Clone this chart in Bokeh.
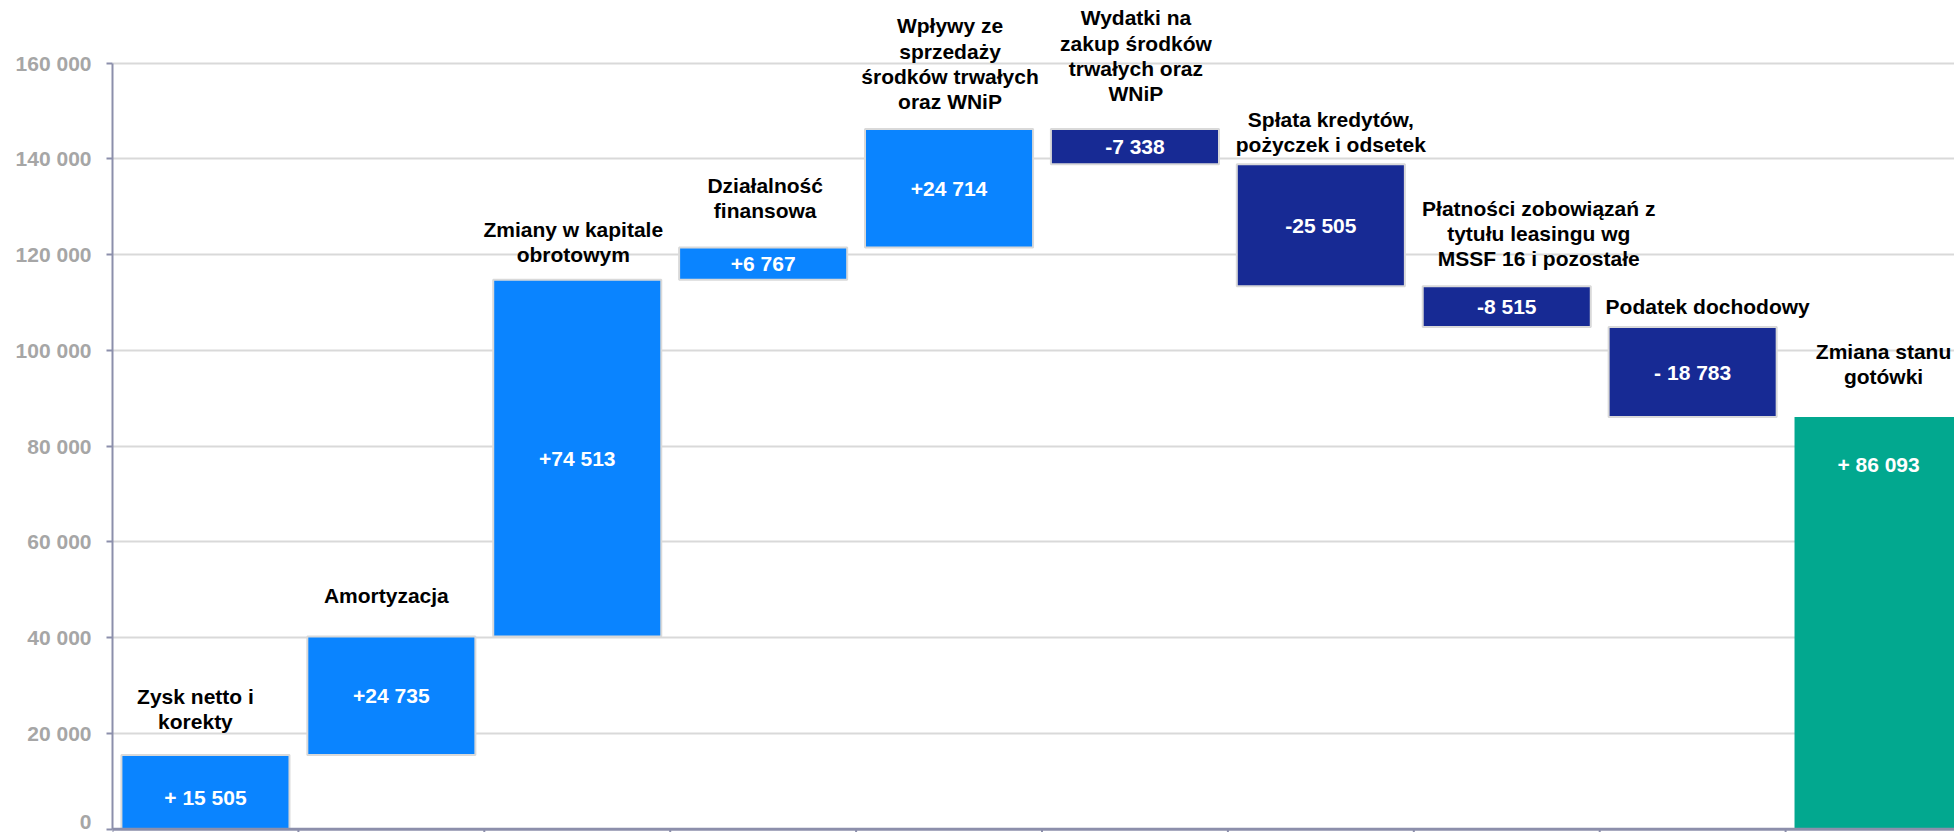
from bokeh.plotting import figure
from bokeh.models import ColumnDataSource, FixedTicker, Range1d, Span
from bokeh.embed import file_html
from bokeh.resources import INLINE
from bokeh.core.properties import value

# ---------------- data ----------------
categories = [
    "Zysk netto i\nkorekty",
    "Amortyzacja",
    "Zmiany w kapitale\nobrotowym",
    "Działalność\nfinansowa",
    "Wpływy ze\nsprzedaży\nśrodków trwałych\noraz WNiP",
    "Wydatki na\nzakup środków\ntrwałych oraz\nWNiP",
    "Spłata kredytów,\npożyczek i odsetek",
    "Płatności zobowiązań z\ntytułu leasingu wg\nMSSF 16 i pozostałe",
    "Podatek dochodowy",
    "Zmiana stanu\ngotówki",
]
changes = [15505, 24735, 74513, 6767, 24714, -7338, -25505, -8515, -18783]
total_value = 86093
value_labels = ["+ 15 505", "+24 735", "+74 513", "+6 767", "+24 714",
                "-7 338", "-25 505", "-8 515", "- 18 783", "+ 86 093"]
y_ticks = [0, 20000, 40000, 60000, 80000, 100000, 120000, 140000, 160000]
y_tick_labels = ["0", "20 000", "40 000", "60 000", "80 000",
                 "100 000", "120 000", "140 000", "160 000"]

# ---------------- styling ----------------
FONT = "Liberation Sans"
COL_POS = "#0A84FF"
COL_NEG = "#172A94"
COL_TOT = "#02A88F"
AXIS_COL = "#8C8FAB"
# pixel nudges of the category titles (gap above bar, horizontal shift)
title_gap = [27, 35, 19, 30, 21, 29, 13, 21, 14, 34]
title_dx = [-10, -5, -4, 2, 1, 1, 10, 32, 15, 5]
value_dy = [5, 0, 0, 0, 0, 0, 0, 0, 0, -159]

# ---------------- waterfall geometry from data ----------------
bottoms, tops, colors, line_alpha = [], [], [], []
run = 0
for c in changes:
    lo, hi = sorted([run, run + c])
    bottoms.append(lo)
    tops.append(hi)
    colors.append(COL_POS if c > 0 else COL_NEG)
    line_alpha.append(1.0)
    run += c
bottoms.append(0)
tops.append(total_value)
colors.append(COL_TOT)
line_alpha.append(0.0)

n = len(categories)
xc = [i + 0.5 for i in range(n)]
mids = [(b + t) / 2 for b, t in zip(bottoms, tops)]

bars = ColumnDataSource(dict(x=xc, bottom=bottoms, top=tops, color=colors,
                             la=line_alpha))
vals = ColumnDataSource(dict(x=xc, y=mids, text=value_labels, dy=value_dy))
titles = ColumnDataSource(dict(x=xc, y=tops, text=categories,
                               dx=title_dx, dy=[-(g - 5) for g in title_gap]))

# ---------------- layout ----------------
W, H = 1954, 832
LEFT = 112
frame_h = H
zero_px = 828.7          # y pixel (in figure) of value 0
top_tick_px = 62.7       # y pixel of 160 000
ppu = (zero_px - top_tick_px) / y_ticks[-1]
y_end = zero_px / ppu
y_start = -(frame_h - zero_px) / ppu
cat_px = 185.9
x_end = (W - LEFT) / cat_px

p = figure(width=W, height=H, output_backend="svg", toolbar_location=None,
           x_range=Range1d(0, x_end), y_range=Range1d(y_start, y_end),
           x_axis_location=None,
           min_border_left=LEFT, min_border_right=0, min_border_top=0,
           min_border_bottom=0)
p.outline_line_color = None
p.background_fill_color = "white"

p.vbar(x="x", width=0.904, bottom="bottom", top="top", source=bars,
       fill_color="color", line_color="#D9D9D9", line_alpha="la", line_width=2)

# bottom category axis: baseline and boundary ticks
p.add_layout(Span(location=0, dimension="width", line_color=AXIS_COL,
                  line_width=3))
bounds = list(range(n + 1))
p.segment(x0=bounds, y0=[0] * len(bounds), x1=bounds,
          y1=[y_start] * len(bounds), line_color=AXIS_COL, line_width=2)

p.text(x="x", y="y", text="text", source=vals, y_offset="dy",
       text_font=value(FONT), text_font_style="bold", text_font_size="21px",
       text_color="white", text_align="center", text_baseline="middle")

p.text(x="x", y="y", text="text", source=titles, x_offset="dx", y_offset="dy",
       text_font=value(FONT), text_font_style="bold", text_font_size="21px",
       text_color="black", text_align="center", text_baseline="bottom",
       text_line_height=1.1)

# value axis
p.yaxis.ticker = FixedTicker(ticks=y_ticks)
p.yaxis.bounds = (y_ticks[0], y_ticks[-1])
p.yaxis.major_label_overrides = {t: s for t, s in zip(y_ticks, y_tick_labels)}
p.yaxis.major_label_text_font = FONT
p.yaxis.major_label_text_font_style = "bold"
p.yaxis.major_label_text_font_size = "21px"
p.yaxis.major_label_text_color = "#A6A6A6"
p.yaxis.major_label_standoff = 15
p.yaxis.axis_line_color = AXIS_COL
p.yaxis.axis_line_width = 2
p.yaxis.major_tick_line_color = AXIS_COL
p.yaxis.major_tick_line_width = 2
p.yaxis.major_tick_out = 6
p.yaxis.major_tick_in = 0
p.yaxis.minor_tick_line_color = None

p.xgrid.grid_line_color = None
p.ygrid.ticker = FixedTicker(ticks=y_ticks[1:])
p.ygrid.grid_line_color = "#D9D9D9"
p.ygrid.grid_line_width = 2

open("out.html", "w").write(file_html(p, INLINE))
